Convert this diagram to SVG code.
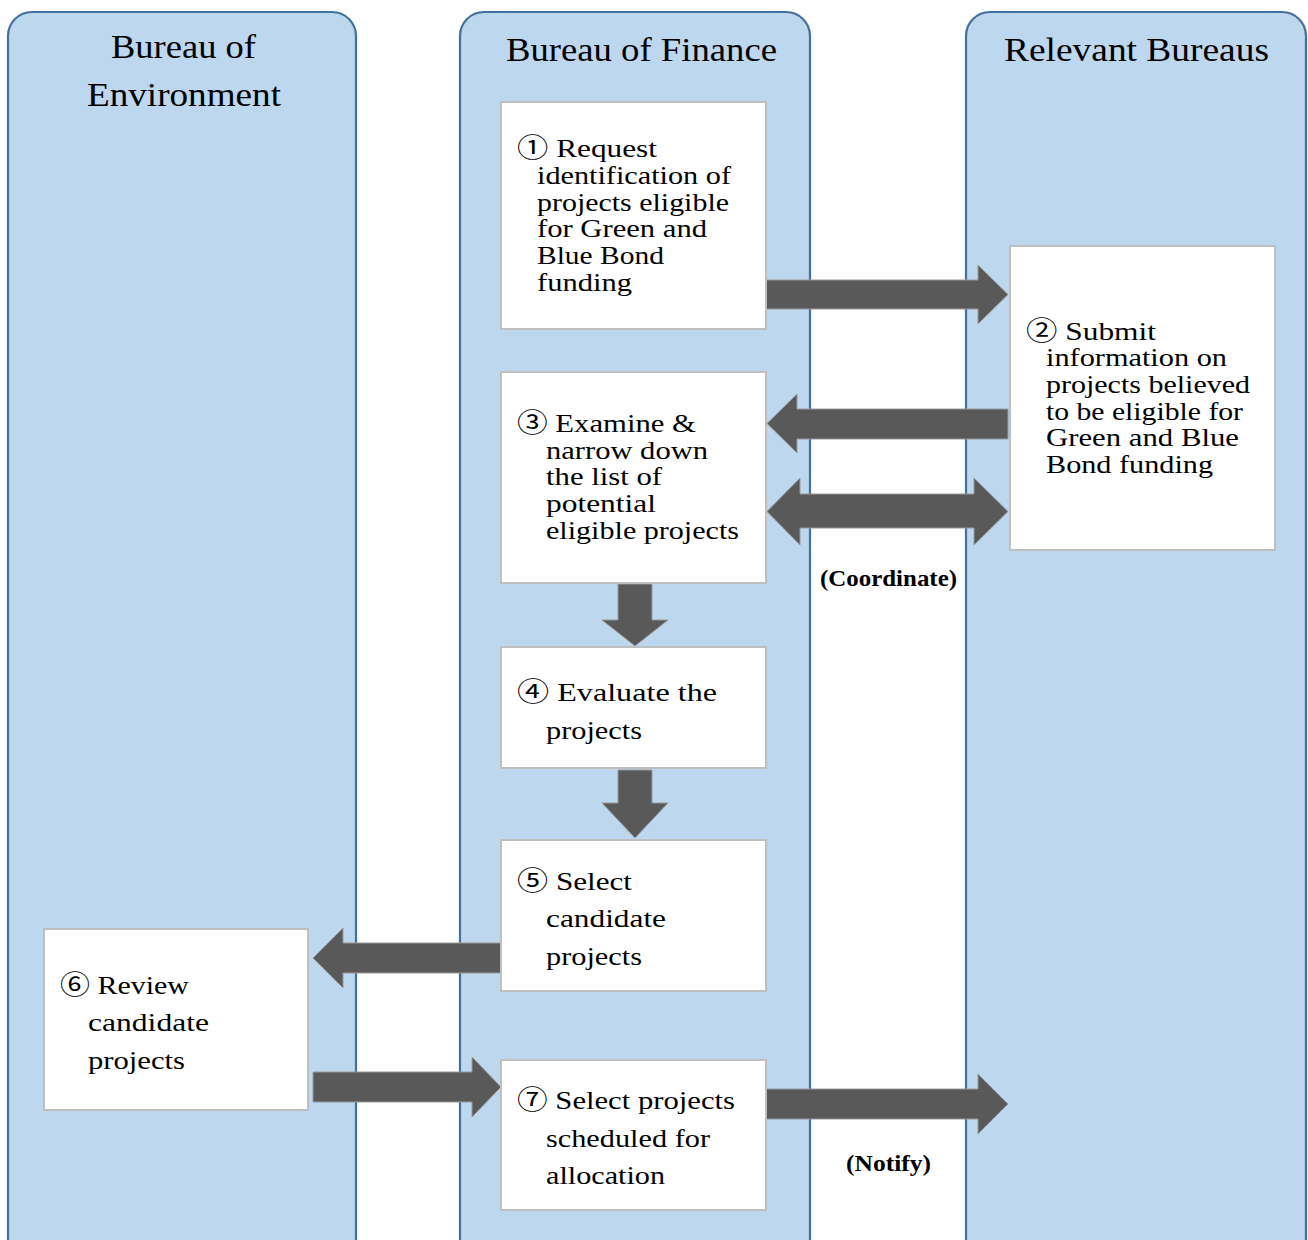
<svg xmlns="http://www.w3.org/2000/svg" width="1308" height="1240" viewBox="0 0 1308 1240">
<style>
.lane{fill:#BDD7EE;stroke:#41719C;stroke-width:2.2}
.box{fill:#FFFFFF;stroke:#BFBFBF;stroke-width:2}
.t{font-family:"Liberation Serif","Noto Sans CJK JP",serif;font-size:26px;fill:#000}
.title{font-family:"Liberation Serif",serif;font-size:34px;fill:#000}
.lbl{font-family:"Liberation Serif",serif;font-size:24px;font-weight:bold;fill:#000}
.arr{fill:#595959;stroke:#9A9A9A;stroke-width:1}
</style>
<rect width="1308" height="1240" fill="#FFFFFF"/>
<g id="lane-environment">
<rect class="lane" x="8" y="12" width="348" height="1252" rx="24"/>
<text class="title" x="111" y="58" textLength="145" lengthAdjust="spacingAndGlyphs">Bureau of</text>
<text class="title" x="87" y="106" textLength="194" lengthAdjust="spacingAndGlyphs">Environment</text>
</g>
<g id="lane-finance">
<rect class="lane" x="460" y="12" width="350" height="1252" rx="24"/>
<text class="title" x="506" y="61" textLength="271" lengthAdjust="spacingAndGlyphs">Bureau of Finance</text>
</g>
<g id="lane-relevant">
<rect class="lane" x="966" y="12" width="340" height="1252" rx="24"/>
<text class="title" x="1004" y="61" textLength="265" lengthAdjust="spacingAndGlyphs">Relevant Bureaus</text>
</g>
<g id="connectors">
<polygon class="arr" points="766,280 978,280 978,265 1008,294.5 978,324 978,309 766,309"/>
<polygon class="arr" points="1008,409 797,409 797,394 767,423.5 797,453 797,439 1008,439"/>
<polygon class="arr" points="767,511.5 800,478 800,494 974,494 974,478 1008,511.5 974,545 974,528 800,528 800,545"/>
<polygon class="arr" points="618,584 652,584 652,620 668,620 635,646 602,620 618,620"/>
<polygon class="arr" points="618,770 652,770 652,803 668,803 635,838 602,803 618,803"/>
<polygon class="arr" points="501,943 343,943 343,928 313,958 343,988 343,973 501,973"/>
<polygon class="arr" points="313,1072 472,1072 472,1057 501,1087 472,1117 472,1102 313,1102"/>
<polygon class="arr" points="766,1089 978,1089 978,1074 1008,1104 978,1134 978,1119 766,1119"/>
<text class="lbl" x="820" y="586" textLength="137" lengthAdjust="spacingAndGlyphs">(Coordinate)</text>
<text class="lbl" x="846" y="1171" textLength="85" lengthAdjust="spacingAndGlyphs">(Notify)</text>
</g>
<g id="step1">
<rect class="box" x="501" y="102" width="265" height="227"/>
<text class="t" x="517" y="157" textLength="140" lengthAdjust="spacingAndGlyphs">① Request</text>
<text class="t" x="537" y="184" textLength="194" lengthAdjust="spacingAndGlyphs">identification of</text>
<text class="t" x="537" y="211" textLength="192" lengthAdjust="spacingAndGlyphs">projects eligible</text>
<text class="t" x="537" y="237" textLength="170" lengthAdjust="spacingAndGlyphs">for Green and</text>
<text class="t" x="537" y="264" textLength="127" lengthAdjust="spacingAndGlyphs">Blue Bond</text>
<text class="t" x="537" y="291" textLength="95" lengthAdjust="spacingAndGlyphs">funding</text>
</g>
<g id="step2">
<rect class="box" x="1010" y="246" width="265" height="304"/>
<text class="t" x="1026" y="340" textLength="130" lengthAdjust="spacingAndGlyphs">② Submit</text>
<text class="t" x="1046" y="366" textLength="181" lengthAdjust="spacingAndGlyphs">information on</text>
<text class="t" x="1046" y="393" textLength="204" lengthAdjust="spacingAndGlyphs">projects believed</text>
<text class="t" x="1046" y="420" textLength="197" lengthAdjust="spacingAndGlyphs">to be eligible for</text>
<text class="t" x="1046" y="446" textLength="193" lengthAdjust="spacingAndGlyphs">Green and Blue</text>
<text class="t" x="1046" y="473" textLength="167" lengthAdjust="spacingAndGlyphs">Bond funding</text>
</g>
<g id="step3">
<rect class="box" x="501" y="372" width="265" height="211"/>
<text class="t" x="517" y="432" textLength="179" lengthAdjust="spacingAndGlyphs">③ Examine &amp;</text>
<text class="t" x="546" y="459" textLength="162" lengthAdjust="spacingAndGlyphs">narrow down</text>
<text class="t" x="546" y="485" textLength="116" lengthAdjust="spacingAndGlyphs">the list of</text>
<text class="t" x="546" y="512" textLength="110" lengthAdjust="spacingAndGlyphs">potential</text>
<text class="t" x="546" y="539" textLength="193" lengthAdjust="spacingAndGlyphs">eligible projects</text>
</g>
<g id="step4">
<rect class="box" x="501" y="647" width="265" height="121"/>
<text class="t" x="517" y="701" textLength="200" lengthAdjust="spacingAndGlyphs">④ Evaluate the</text>
<text class="t" x="546" y="739" textLength="96" lengthAdjust="spacingAndGlyphs">projects</text>
</g>
<g id="step5">
<rect class="box" x="501" y="840" width="265" height="151"/>
<text class="t" x="517" y="890" textLength="115" lengthAdjust="spacingAndGlyphs">⑤ Select</text>
<text class="t" x="546" y="927" textLength="120" lengthAdjust="spacingAndGlyphs">candidate</text>
<text class="t" x="546" y="965" textLength="96" lengthAdjust="spacingAndGlyphs">projects</text>
</g>
<g id="step6">
<rect class="box" x="44" y="929" width="264" height="181"/>
<text class="t" x="60" y="994" textLength="129" lengthAdjust="spacingAndGlyphs">⑥ Review</text>
<text class="t" x="88" y="1031" textLength="121" lengthAdjust="spacingAndGlyphs">candidate</text>
<text class="t" x="88" y="1069" textLength="97" lengthAdjust="spacingAndGlyphs">projects</text>
</g>
<g id="step7">
<rect class="box" x="501" y="1060" width="265" height="150"/>
<text class="t" x="517" y="1109" textLength="218" lengthAdjust="spacingAndGlyphs">⑦ Select projects</text>
<text class="t" x="546" y="1147" textLength="164" lengthAdjust="spacingAndGlyphs">scheduled for</text>
<text class="t" x="546" y="1184" textLength="119" lengthAdjust="spacingAndGlyphs">allocation</text>
</g>
</svg>
